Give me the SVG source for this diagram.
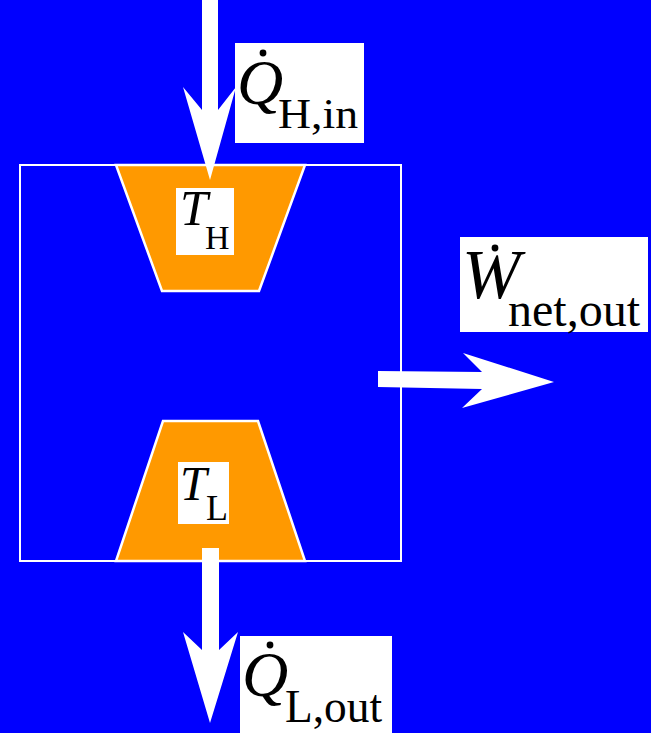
<svg xmlns="http://www.w3.org/2000/svg" width="651" height="733" viewBox="0 0 651 733">
<style>
.bg{fill:#0000FF}
.res{fill:#FF9900;stroke:#FFFFFF;stroke-width:2.5}
.box{fill:none;stroke:#FFFFFF;stroke-width:2}
.lbl{fill:#FFFFFF}
.arr{fill:#FFFFFF}
text{font-family:"Liberation Serif","Times New Roman",serif;fill:#000000}
.it{font-style:italic}
</style>
<rect class="bg" x="0" y="0" width="651" height="733"/>
<g id="engine">
<rect class="box" x="20" y="165" width="381" height="396"/>
</g>
<g id="hot-reservoir">
<polygon class="res" points="116,165 305,165 259,291 162,291"/>
<rect class="lbl" x="176" y="188" width="58" height="67"/>
<text class="it" x="180" y="225" font-size="50">T</text>
<text x="205" y="249" font-size="34">H</text>
</g>
<g id="cold-reservoir">
<polygon class="res" points="163,421 258,421 305,561 116,561"/>
<rect class="lbl" x="178" y="462" width="51" height="62"/>
<text class="it" x="180" y="500" font-size="48">T</text>
<text x="206" y="520" font-size="36">L</text>
</g>
<g id="connectors">
<polygon class="arr" points="202,0 218,0 218,110 236,87 210,180 183,87 202,110"/>
<polygon class="arr" points="202,548 219,548 219,650 238,632 210,723 183,632 202,650"/>
<polygon class="arr" points="378,371 482,372 463,353 554,382 462,408 482,389 378,387"/>
</g>
<g id="label-qh">
<rect class="lbl" x="235" y="43" width="129" height="100"/>
<text class="it" x="237" y="104" font-size="64">Q</text>
<circle cx="263" cy="53" r="3.4" fill="#000"/>
<text x="278" y="128" font-size="42" textLength="80" lengthAdjust="spacingAndGlyphs">H,in</text>
</g>
<g id="label-w">
<rect class="lbl" x="460" y="237" width="188" height="95"/>
<text class="it" x="462" y="298" font-size="70">W</text>
<circle cx="495" cy="248" r="3.4" fill="#000"/>
<text x="508" y="326" font-size="48" textLength="132" lengthAdjust="spacingAndGlyphs">net,out</text>
</g>
<g id="label-ql">
<rect class="lbl" x="240" y="636" width="152" height="97"/>
<text class="it" x="242" y="696" font-size="64">Q</text>
<circle cx="270" cy="645" r="3.4" fill="#000"/>
<text x="285" y="722" font-size="46" textLength="97" lengthAdjust="spacingAndGlyphs">L,out</text>
</g>
</svg>
